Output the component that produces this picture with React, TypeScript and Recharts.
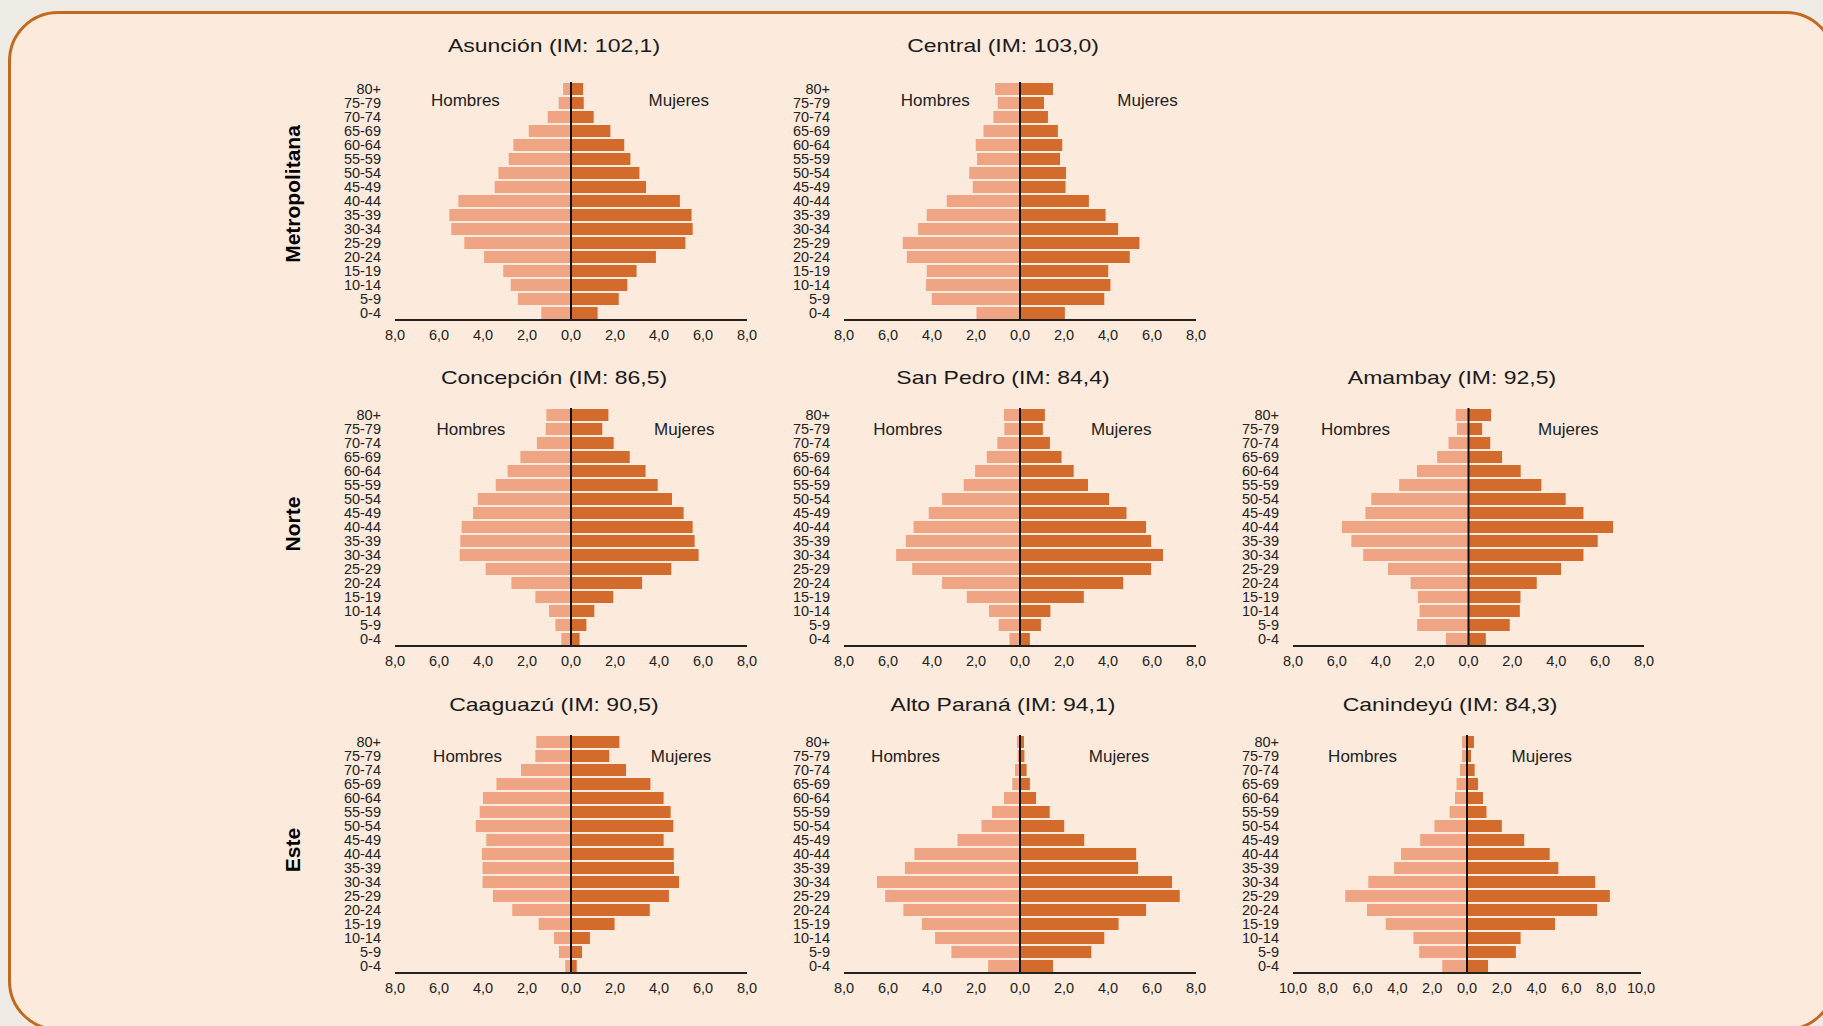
import React from 'react';
import { BarChart, Bar, XAxis, YAxis, ReferenceLine, ReferenceDot } from 'recharts';

const AGES = ['80+', '75-79', '70-74', '65-69', '60-64', '55-59', '50-54', '45-49', '40-44', '35-39', '30-34', '25-29', '20-24', '15-19', '10-14', '5-9', '0-4'];

const ASUNCION_H = [0.36, 0.56, 1.06, 1.92, 2.62, 2.83, 3.3, 3.47, 5.12, 5.53, 5.44, 4.85, 3.95, 3.08, 2.74, 2.41, 1.35];
const ASUNCION_M = [0.55, 0.58, 1.03, 1.79, 2.42, 2.7, 3.11, 3.41, 4.95, 5.48, 5.53, 5.2, 3.86, 2.98, 2.56, 2.17, 1.21];
const CENTRAL_H = [1.13, 1.01, 1.21, 1.66, 2.01, 1.95, 2.31, 2.15, 3.33, 4.24, 4.63, 5.33, 5.14, 4.24, 4.27, 4.01, 1.98];
const CENTRAL_M = [1.5, 1.09, 1.27, 1.72, 1.92, 1.82, 2.09, 2.07, 3.13, 3.89, 4.46, 5.43, 4.99, 4.01, 4.11, 3.83, 2.04];
const CONCEPCION_H = [1.12, 1.15, 1.55, 2.3, 2.88, 3.42, 4.24, 4.45, 4.97, 5.03, 5.06, 3.88, 2.71, 1.62, 1.0, 0.71, 0.44];
const CONCEPCION_M = [1.7, 1.42, 1.94, 2.67, 3.39, 3.94, 4.59, 5.12, 5.53, 5.62, 5.8, 4.56, 3.23, 1.92, 1.06, 0.7, 0.39];
const SANPEDRO_H = [0.73, 0.71, 1.03, 1.51, 2.04, 2.56, 3.54, 4.15, 4.84, 5.19, 5.63, 4.9, 3.54, 2.42, 1.41, 0.97, 0.48];
const SANPEDRO_M = [1.13, 1.04, 1.36, 1.89, 2.44, 3.09, 4.05, 4.84, 5.73, 5.96, 6.5, 5.96, 4.69, 2.9, 1.38, 0.95, 0.45];
const AMAMBAY_H = [0.58, 0.53, 0.91, 1.43, 2.35, 3.16, 4.43, 4.7, 5.77, 5.34, 4.8, 3.67, 2.64, 2.31, 2.23, 2.34, 1.03];
const AMAMBAY_M = [1.03, 0.62, 0.99, 1.53, 2.38, 3.32, 4.43, 5.24, 6.59, 5.89, 5.24, 4.22, 3.11, 2.37, 2.34, 1.88, 0.79];
const CAAGUAZU_H = [1.58, 1.62, 2.27, 3.39, 4.0, 4.15, 4.33, 3.85, 4.05, 4.02, 4.02, 3.55, 2.67, 1.47, 0.77, 0.55, 0.26];
const CAAGUAZU_M = [2.2, 1.74, 2.5, 3.61, 4.21, 4.53, 4.65, 4.21, 4.67, 4.68, 4.91, 4.45, 3.58, 1.98, 0.86, 0.5, 0.26];
const ALTOPARANA_H = [0.14, 0.11, 0.23, 0.35, 0.73, 1.27, 1.75, 2.84, 4.8, 5.23, 6.5, 6.13, 5.3, 4.46, 3.86, 3.12, 1.45];
const ALTOPARANA_M = [0.18, 0.2, 0.3, 0.45, 0.73, 1.35, 2.01, 2.92, 5.28, 5.37, 6.91, 7.26, 5.73, 4.48, 3.83, 3.24, 1.5];
const CANINDEYU_H = [0.29, 0.29, 0.4, 0.6, 0.69, 1.0, 1.87, 2.69, 3.79, 4.19, 5.67, 7.0, 5.75, 4.67, 3.08, 2.75, 1.42];
const CANINDEYU_M = [0.4, 0.23, 0.44, 0.63, 0.92, 1.12, 2.0, 3.29, 4.75, 5.25, 7.37, 8.21, 7.48, 5.06, 3.08, 2.81, 1.21];

const TICKS_8 = [-8, -6, -4, -2, 0, 2, 4, 6, 8];
const TICKS_10 = [-10, -8, -6, -4, -2, 0, 2, 4, 6, 8, 10];

const REGIONS = ['Metropolitana', 'Norte', 'Este'];

const MALE = '#EFA584';
const FEMALE = '#D36B2C';
const FONT = '"Liberation Sans", Arial, Helvetica, sans-serif';

const COL_LEFT = [395, 844, 1293];
const ROW_TOP = [82, 408, 735];
const TITLE_Y = [46, 378, 705];
const LABEL_DY = [-3, 0, 0];
const PLOT_H = 238;
const YW = 60;
const MT = 5;
const MR = 24;
const XH = 30;
const MB = 5;

type Panel = {
  title: string;
  h: number[];
  m: number[];
  ticks: number[];
  col: number;
  row: number;
  plotW: number;
  lab: [number, number];
};

const PANELS: Panel[] = [
  { title: 'Asunción (IM: 102,1)', h: ASUNCION_H, m: ASUNCION_M, ticks: TICKS_8, col: 0, row: 0, plotW: 352, lab: [-4.8, 4.9] },
  { title: 'Central (IM: 103,0)', h: CENTRAL_H, m: CENTRAL_M, ticks: TICKS_8, col: 1, row: 0, plotW: 352, lab: [-3.85, 5.8] },
  { title: 'Concepción (IM: 86,5)', h: CONCEPCION_H, m: CONCEPCION_M, ticks: TICKS_8, col: 0, row: 1, plotW: 352, lab: [-4.55, 5.15] },
  { title: 'San Pedro (IM: 84,4)', h: SANPEDRO_H, m: SANPEDRO_M, ticks: TICKS_8, col: 1, row: 1, plotW: 352, lab: [-5.1, 4.6] },
  { title: 'Amambay (IM: 92,5)', h: AMAMBAY_H, m: AMAMBAY_M, ticks: TICKS_8, col: 2, row: 1, plotW: 351, lab: [-5.15, 4.55] },
  { title: 'Caaguazú (IM: 90,5)', h: CAAGUAZU_H, m: CAAGUAZU_M, ticks: TICKS_8, col: 0, row: 2, plotW: 352, lab: [-4.7, 5.0] },
  { title: 'Alto Paraná (IM: 94,1)', h: ALTOPARANA_H, m: ALTOPARANA_M, ticks: TICKS_8, col: 1, row: 2, plotW: 352, lab: [-5.2, 4.5] },
  { title: 'Canindeyú (IM: 84,3)', h: CANINDEYU_H, m: CANINDEYU_M, ticks: TICKS_10, col: 2, row: 2, plotW: 348, lab: [-6.0, 4.3] },
];

const fmt = (v: number) => Math.abs(v).toFixed(1).replace('.', ',');

function Pyramid({ p }: { p: Panel }) {
  const data = AGES.map((age, i) => ({ age, h: -p.h[i], m: p.m[i] }));
  const lim = p.ticks[p.ticks.length - 1];
  const plotLeft = COL_LEFT[p.col];
  const plotTop = ROW_TOP[p.row];
  const width = YW + p.plotW + MR;
  const height = MT + PLOT_H + XH + MB;
  const center = plotLeft + p.plotW / 2;
  const dy = LABEL_DY[p.row];
  return (
    <>
      <div
        style={{
          position: 'absolute',
          left: center - 17 - 200,
          top: TITLE_Y[p.row] - 12,
          width: 400,
          height: 24,
          lineHeight: '24px',
          textAlign: 'center',
          fontFamily: FONT,
          fontSize: 19,
          color: '#1a1a1a',
          transform: 'scaleX(1.21)',
          whiteSpace: 'nowrap',
        }}
      >
        {p.title}
      </div>
      <div style={{ position: 'absolute', left: plotLeft - YW, top: plotTop - MT }}>
        <BarChart
          width={width}
          height={height}
          data={data}
          layout="vertical"
          stackOffset="sign"
          margin={{ top: MT, right: MR, bottom: MB, left: 0 }}
          style={{ fontFamily: FONT }}
        >
          <XAxis
            type="number"
            domain={[-lim, lim]}
            ticks={p.ticks}
            interval={0}
            tickFormatter={fmt}
            axisLine={{ stroke: '#222', strokeWidth: 2 }}
            tickLine={false}
            tickSize={0}
            tickMargin={10}
            height={XH}
            tick={{ fill: '#222', fontSize: 14.5 }}
          />
          <YAxis
            type="category"
            dataKey="age"
            width={YW}
            interval={0}
            axisLine={false}
            tickLine={false}
            tickSize={0}
            tickMargin={14}
            tick={{ fill: '#222', fontSize: 14.5 }}
          />
          <Bar dataKey="h" stackId="a" fill={MALE} barSize={12} isAnimationActive={false} />
          <Bar dataKey="m" stackId="a" fill={FEMALE} barSize={12} isAnimationActive={false} />
          <ReferenceLine x={0} stroke="#111" strokeWidth={2} />
          <ReferenceDot
            x={p.lab[0]}
            y="75-79"
            r={0}
            fill="none"
            stroke="none"
            label={{ value: 'Hombres', position: 'center', fill: '#222', fontSize: 17, dy }}
          />
          <ReferenceDot
            x={p.lab[1]}
            y="75-79"
            r={0}
            fill="none"
            stroke="none"
            label={{ value: 'Mujeres', position: 'center', fill: '#222', fontSize: 17, dy }}
          />
        </BarChart>
      </div>
    </>
  );
}

const REGION_Y = [194, 524, 850];

export default function App() {
  return (
    <div
      style={{
        position: 'absolute',
        left: 0,
        top: 0,
        width: 1823,
        height: 1026,
        overflow: 'hidden',
        background: '#EEEBE5',
        fontFamily: FONT,
      }}
    >
      <div
        style={{
          position: 'absolute',
          left: 8,
          top: 11,
          width: 1828,
          height: 1020,
          boxSizing: 'border-box',
          border: '3px solid #C2691E',
          borderRadius: 50,
          background: '#FCEADD',
        }}
      />
      {REGIONS.map((r, i) => (
        <div
          key={r}
          style={{
            position: 'absolute',
            left: 293 - 100,
            top: REGION_Y[i] - 12,
            width: 200,
            height: 24,
            lineHeight: '24px',
            textAlign: 'center',
            fontWeight: 'bold',
            fontSize: 21,
            color: '#000',
            transform: 'rotate(-90deg)',
          }}
        >
          {r}
        </div>
      ))}
      {PANELS.map((p) => (
        <Pyramid key={p.title} p={p} />
      ))}
    </div>
  );
}
